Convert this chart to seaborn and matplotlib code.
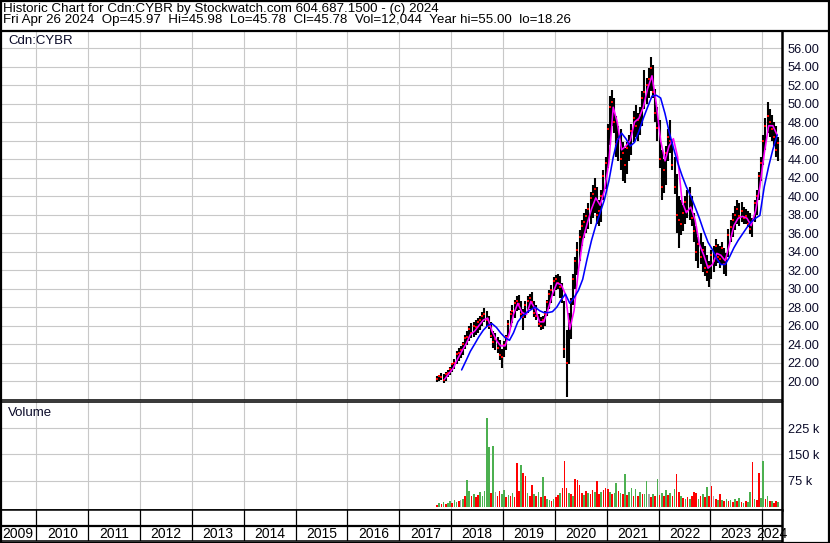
import numpy as np
import pandas as pd
import matplotlib
matplotlib.use("Agg")
import matplotlib.pyplot as plt
import matplotlib.dates as mdates
from matplotlib.lines import Line2D
from matplotlib.patches import Rectangle
import seaborn as sns

# ---------------- data ----------------
header1 = "Historic Chart for Cdn:CYBR by Stockwatch.com 604.687.1500 - (c) 2024"
header2 = "Fri Apr 26 2024  Op=45.97  Hi=45.98  Lo=45.78  Cl=45.78  Vol=12,044  Year hi=55.00  lo=18.26"
symbol = "Cdn:CYBR"

# half-month bars, Sep-2017 (2nd half) .. Apr-2024
price_lo = [19.9, 20.0, 20.1, 19.8, 20.0, 20.4, 20.6,
            21.0, 21.3, 21.8, 22.2, 22.5, 22.8, 23.5, 23.9, 24.3, 24.6, 24.8, 25.0, 25.2, 25.5, 26.0, 26.4, 26.0, 25.6, 24.6, 23.6, 23.4, 23.0, 22.3, 21.4,
            22.6, 23.4, 24.8, 25.8, 26.3, 26.8, 27.6, 27.7, 26.8, 25.5, 26.8, 27.4, 27.8, 27.8, 26.9, 26.6, 25.8, 25.5, 25.6, 26.0, 27.0, 27.8, 28.4, 29.2,
            29.8, 30.0, 29.0, 28.4, 22.5, 18.26, 21.8, 24.5, 28.2, 30.0, 31.5, 33.0, 34.6, 35.5, 36.0, 36.4, 37.0, 37.6, 38.2, 37.0, 36.8, 37.2, 39.6, 40.8,
            43.0, 45.5, 47.6, 46.8, 44.2, 43.8, 42.8, 41.6, 41.4, 42.4, 43.8, 44.4, 45.8, 46.4, 46.0, 46.6, 47.6, 49.4, 50.0, 50.6, 51.4, 50.6, 48.0, 46.0,
            43.0, 39.6, 40.3, 41.2, 43.8, 44.6, 42.8, 40.2, 36.0, 34.4, 35.8, 36.2, 37.0, 37.6, 37.4, 36.8, 35.0, 33.0, 32.2, 32.6, 31.8, 31.4, 30.8, 30.2,
            31.0, 31.8, 32.4, 32.8, 32.2, 32.6, 31.6, 31.4, 33.4, 35.0, 35.6, 36.3, 37.0, 36.8, 37.2, 37.0, 37.0, 36.6, 35.9, 35.6, 37.2, 38.0, 39.6, 41.6,
            43.4, 45.0, 46.8, 46.4, 46.0, 45.4, 44.2, 43.8]
price_hi = [20.5, 20.7, 20.9, 20.8, 21.0, 21.2, 21.5,
            22.0, 22.4, 23.2, 23.6, 23.8, 24.2, 25.0, 25.4, 26.0, 26.3, 26.4, 26.6, 26.8, 27.0, 27.5, 27.9, 27.6, 27.0, 26.4, 25.4, 25.2, 24.8, 24.4, 23.5,
            24.3, 25.0, 26.6, 27.6, 28.2, 28.8, 29.2, 29.3, 28.6, 27.8, 28.6, 29.2, 29.4, 29.6, 28.6, 28.2, 27.2, 26.9, 27.0, 27.6, 28.8, 29.8, 30.4, 31.2,
            31.5, 31.6, 31.4, 30.6, 28.6, 25.5, 27.4, 29.0, 31.6, 33.4, 35.0, 36.3, 37.4, 38.2, 38.6, 39.2, 40.4, 41.2, 42.0, 41.0, 39.6, 40.6, 42.8, 44.2,
            47.8, 50.8, 51.5, 50.6, 48.6, 47.6, 47.2, 45.8, 45.2, 45.8, 46.6, 47.8, 49.2, 49.8, 49.0, 49.6, 51.4, 53.6, 52.8, 53.8, 55.0, 54.2, 51.6, 49.6,
            48.2, 45.0, 44.0, 45.4, 47.2, 48.2, 46.2, 44.2, 42.4, 40.0, 39.6, 39.0, 40.0, 40.6, 41.0, 40.0, 38.2, 36.8, 35.6, 36.0, 35.0, 34.6, 33.6, 33.0,
            34.2, 34.6, 35.4, 34.8, 34.6, 35.0, 34.4, 33.8, 36.4, 37.4, 38.2, 38.9, 39.6, 39.2, 39.4, 38.8, 38.6, 38.4, 38.2, 37.6, 39.6, 40.6, 42.6, 44.2,
            46.6, 48.4, 50.2, 49.4, 48.8, 48.0, 47.6, 46.4]
price_cl = [20.2, 20.5, 20.4, 20.1, 20.8, 20.9, 21.3,
            21.8, 22.0, 22.9, 23.0, 23.4, 24.0, 24.6, 24.8, 25.6, 25.2, 26.0, 25.8, 26.4, 26.6, 27.0, 27.2, 26.6, 25.9, 24.9, 24.2, 24.5, 23.6, 22.8, 22.6,
            23.9, 24.8, 26.2, 27.2, 27.6, 28.4, 28.7, 28.3, 27.2, 26.9, 28.2, 28.6, 29.0, 28.5, 27.4, 27.0, 26.2, 26.0, 26.6, 27.3, 28.5, 29.4, 29.8, 30.8,
            31.0, 30.6, 30.2, 28.9, 23.5, 22.0, 26.5, 28.6, 31.0, 33.0, 34.2, 35.6, 36.8, 37.2, 37.8, 38.6, 39.8, 40.2, 40.8, 38.0, 38.4, 40.0, 42.2, 43.6,
            47.2, 49.6, 50.2, 48.0, 45.6, 46.2, 44.0, 44.6, 43.4, 45.2, 45.8, 47.0, 48.4, 47.6, 48.2, 48.8, 50.6, 51.2, 52.0, 52.6, 53.8, 51.2, 49.0, 47.4,
            44.0, 41.0, 42.8, 44.6, 46.4, 46.0, 43.4, 41.0, 38.0, 37.4, 37.0, 38.2, 39.4, 38.4, 40.2, 37.6, 36.2, 34.0, 34.8, 33.4, 34.2, 32.2, 31.8, 32.4,
            33.6, 33.0, 34.6, 33.4, 33.2, 34.4, 32.6, 33.2, 35.8, 36.6, 37.4, 38.0, 38.6, 37.8, 38.4, 37.6, 37.8, 37.0, 36.4, 37.2, 39.2, 40.0, 42.2, 43.6,
            46.0, 47.6, 48.6, 48.0, 47.2, 46.4, 45.0, 45.78]

# volume (thousands) per half-month and bar colour (g=up, r=down, k=unchanged)
volume_k = [6, 10, 8, 14, 9, 12, 16, 10, 20, 14,
            18, 20, 24, 30, 77, 45, 30, 37, 28, 34,
            42, 30, 45, 254, 172, 40, 174, 43, 30, 46,
            38, 47, 28, 35, 30, 40, 28, 125, 45, 120,
            97, 88, 40, 30, 64, 38, 30, 42, 28, 86,
            30, 24, 20, 18, 22, 28, 35, 40, 55, 131,
            54, 40, 38, 30, 81, 76, 64, 40, 35, 45,
            40, 38, 48, 42, 75, 36, 44, 48, 53, 50,
            42, 36, 40, 69, 45, 40, 38, 93, 35, 42,
            55, 32, 52, 30, 44, 38, 36, 75, 37, 28,
            36, 30, 80, 33, 40, 30, 49, 35, 40, 30,
            52, 93, 43, 30, 26, 22, 28, 24, 30, 43,
            41, 24, 30, 36, 28, 58, 30, 61, 30, 24,
            20, 37, 20, 18, 22, 16, 20, 14, 22, 16,
            26, 14, 12, 18, 14, 43, 128, 24, 20, 97,
            26, 131, 22, 30, 18, 16, 12, 17, 14]
volume_dir = ("rgrgrggrgg" "rkgrggrgrr" "gggggrgkrr" "ggrgrgrrrg" "rrgrrgrgrg"
              "rggrgrrgrr" "rgrgrrrrgr" "grrgrrgrrr" "grggrgrgrg" "grgrgrggkr"
              "grgrgrgrgr" "grrgrgrgrr" "rgrgrgrrkr" "grgrgrgrgr" "grgrggrgrr"
              "ggrgrgrrg")

# moving averages, monthly readings
ma_short = [20.2, 20.8,
            21.4, 22.4, 23.2, 24.0, 25.0, 25.4, 26.0, 26.6, 26.8, 25.4, 24.4, 23.8,
            23.8, 25.2, 27.2, 28.4, 27.4, 27.2, 28.6, 27.8, 26.4, 26.4, 27.8, 29.4,
            30.6, 30.4, 29.4, 25.6, 27.6, 32.0, 35.2, 37.0, 38.6, 39.8, 39.0, 40.6,
            43.6, 49.6, 48.0, 45.0, 45.4, 46.0, 48.0, 48.4, 49.6, 51.6, 53.0, 50.0,
            46.0, 43.8, 45.4, 46.2, 44.2, 39.4, 38.2, 38.8, 37.4, 34.8, 33.6, 32.2,
            32.6, 33.8, 33.6, 33.0, 34.8, 36.8, 37.6, 37.8, 37.6, 36.8, 38.4, 41.0,
            44.6, 47.6, 47.6, 46.6]
ma_long = [21.2, 22.2, 23.2, 24.0, 24.8, 25.5, 26.0, 26.2, 25.8, 25.2,
           24.7, 24.4, 25.2, 26.4, 27.0, 27.4, 27.7, 28.0, 27.6, 27.4, 27.4, 27.5,
           28.0, 28.8, 29.4, 28.4, 29.0, 29.8, 31.0, 33.2, 35.2, 36.8, 38.2, 39.6,
           41.6, 44.2, 46.0, 46.8, 46.2, 45.4, 45.8, 47.0, 48.4, 49.6, 50.8, 50.9,
           50.6, 48.9, 47.0, 45.2, 43.6, 42.2, 41.0, 40.0, 38.8, 37.6, 36.2, 35.0,
           34.2, 33.2, 32.6, 32.6, 33.4, 34.4, 35.2, 35.9, 36.6, 37.2, 37.6, 37.9,
           41.0, 43.2, 45.0, 46.6]

price_ticks = list(range(20, 57, 2))
volume_ticks = [75, 150, 225]
years = list(range(2009, 2025))

# ---------------- dates ----------------
months = pd.period_range("2017-09", "2024-04", freq="M")
bar_dates = [p.to_timestamp() + pd.Timedelta(days=d) for p in months for d in (7, 22)][1:]
n = min(len(bar_dates), len(price_lo), len(price_hi), len(price_cl))
xb = mdates.date2num(bar_dates[:n])
nv = min(len(bar_dates), len(volume_k), len(volume_dir))
xv = mdates.date2num(bar_dates[:nv])
ms_dates = [p.to_timestamp() + pd.Timedelta(days=14) for p in pd.period_range("2017-11", "2024-04", freq="M")]
ml_dates = [p.to_timestamp() + pd.Timedelta(days=14) for p in pd.period_range("2018-03", "2024-04", freq="M")]
xs = mdates.date2num(ms_dates[:len(ma_short)])
xl = mdates.date2num(ml_dates[:len(ma_long)])

XL = (mdates.date2num(pd.Timestamp("2009-04-19")), mdates.date2num(pd.Timestamp("2024-05-19")))
year_starts = [mdates.date2num(pd.Timestamp(f"{y}-01-01")) for y in years[1:]]

# ---------------- figure ----------------
sns.set_theme(style="white")
plt.rcParams["font.family"] = ["Liberation Sans", "DejaVu Sans"]
W, H = 830, 543
fig = plt.figure(figsize=(W / 100, H / 100), dpi=100)
fig.patch.set_facecolor("white")

def px_axes(x0, y0, x1, y1):
    return fig.add_axes([x0 / W, 1 - y1 / H, (x1 - x0) / W, (y1 - y0) / H])

GRID = "#c8c8c8"
TXT = "#0a0a28"

def style(ax):
    ax.set_facecolor("white")
    ax.set_xlim(XL)
    ax.set_xticks(year_starts)
    ax.set_xticklabels([])
    ax.yaxis.tick_right()
    ax.tick_params(axis="both", length=0, labelsize=9.2, labelcolor=TXT, pad=4.0)
    ax.grid(True, color=GRID, lw=0.8)
    ax.set_axisbelow(True)
    for s in ax.spines.values():
        s.set_color("black")
        s.set_linewidth(1.1)
    ax.spines["right"].set_linewidth(1.8)

# price panel
axp = px_axes(0, 31, 782, 400)
style(axp)
axp.set_ylim(17.95, 57.84)
axp.set_yticks(price_ticks)
axp.set_yticklabels([f"{v:.2f}" for v in price_ticks])
axp.vlines(xb, price_lo[:n], price_hi[:n], color="black", lw=1.5, zorder=3)
sns.scatterplot(x=xb, y=price_cl[:n], ax=axp, color="#ff0000", marker="s", s=1.3,
                linewidth=0, zorder=4, legend=False)
sns.lineplot(x=xs, y=ma_short, ax=axp, color="#ff00ff", lw=1.15, zorder=5, legend=False)
sns.lineplot(x=xl, y=ma_long, ax=axp, color="#0000ff", lw=1.15, zorder=6, legend=False)
axp.set_xlabel("")
axp.set_ylabel("")

# volume panel
axv = px_axes(0, 402, 782, 510)
style(axv)
axv.set_ylim(-8.9, 300.3)
axv.set_yticks(volume_ticks)
axv.set_yticklabels([f"{v} k" for v in volume_ticks])
cmap = {"g": "#4cb050", "r": "#ff0000", "k": "#a8a8a8"}
axv.bar(xv, volume_k[:nv], width=11.5, color=[cmap[c] for c in volume_dir[:nv]], lw=0, zorder=3)

# year strip
axs = px_axes(0, 510, 782, 541)
axs.set_xlim(XL)
axs.set_ylim(0, 31)
axs.set_xticks([])
axs.set_yticks([])
for s in axs.spines.values():
    s.set_color("black")
    s.set_linewidth(1.1)
axs.spines["right"].set_linewidth(1.8)
axs.axhline(15, color="black", lw=1.6)
for xs_ in year_starts:
    axs.axvline(xs_, color="black", lw=0.9)
bounds = [XL[0]] + year_starts + [XL[1]]
for i, y in enumerate(years):
    c = (bounds[i] + bounds[i + 1]) / 2
    axs.text(c, 7.3, str(y), ha="center", va="center", fontsize=10, color="black")

# header and labels
fig.text(3 / W, 1 - 11.8 / H, header1, fontsize=9.6, va="baseline", color="black")
fig.text(3 / W, 1 - 23.3 / H, header2, fontsize=9.6, va="baseline", color="black")
fig.add_artist(Line2D([0, 1], [1 - 30.5 / H] * 2, color="black", lw=1.6, transform=fig.transFigure))
fig.text(8 / W, 1 - 41.5 / H, symbol, fontsize=9.5, va="center", color=TXT)
fig.text(8 / W, 1 - 413 / H, "Volume", fontsize=9.5, va="center", color=TXT)
fig.add_artist(Rectangle((0.5 / W, 0.5 / H), 1 - 1.5 / W, 1 - 1.5 / H, transform=fig.transFigure,
                         fill=False, ec="black", lw=1.6))

fig.savefig("out.png", dpi=100, facecolor="white")
